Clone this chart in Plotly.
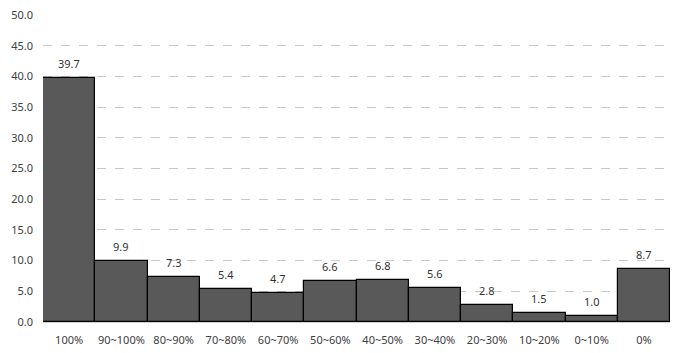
import plotly.graph_objects as go

categories = ["100%", "90~100%", "80~90%", "70~80%", "60~70%", "50~60%", "40~50%",
              "30~40%", "20~30%", "10~20%", "0~10%", "0%"]
values = [39.7, 9.9, 7.3, 5.4, 4.7, 6.6, 6.8, 5.6, 2.8, 1.5, 1.0, 8.7]
y_ticks = [0, 5, 10, 15, 20, 25, 30, 35, 40, 45, 50]

fig = go.Figure(go.Bar(
    x=categories, y=values,
    marker=dict(color="#595959", line=dict(color="#000000", width=1.2)),
    hoverinfo="x+y",
))
for c, v in zip(categories, values):
    fig.add_annotation(x=c, y=v, text=f"{v:.1f}", showarrow=False, yanchor="bottom",
                       yshift=5, font=dict(size=11, color="#333333", family="Noto Sans"))
fig.update_layout(
    width=685, height=353,
    margin=dict(l=43, r=15, t=15, b=31),
    paper_bgcolor="white", plot_bgcolor="white",
    bargap=0, showlegend=False,
    font=dict(family="Noto Sans", size=11, color="#404040"),
)
fig.update_yaxes(range=[0, 50], tickvals=y_ticks, ticktext=[f"{v:.1f}" for v in y_ticks],
                 showgrid=True, gridcolor="#c8c8c8", griddash="dash", gridwidth=1,
                 zeroline=False, showline=False, ticks="", ticklabelstandoff=9,
                 automargin=False, tickfont=dict(size=11, color="#404040"))
fig.update_xaxes(showline=True, linecolor="#d0d0d0", linewidth=1, ticks="",
                 ticklabelstandoff=8, automargin=False, tickfont=dict(size=11, color="#404040"))
fig.write_html("out.html")
